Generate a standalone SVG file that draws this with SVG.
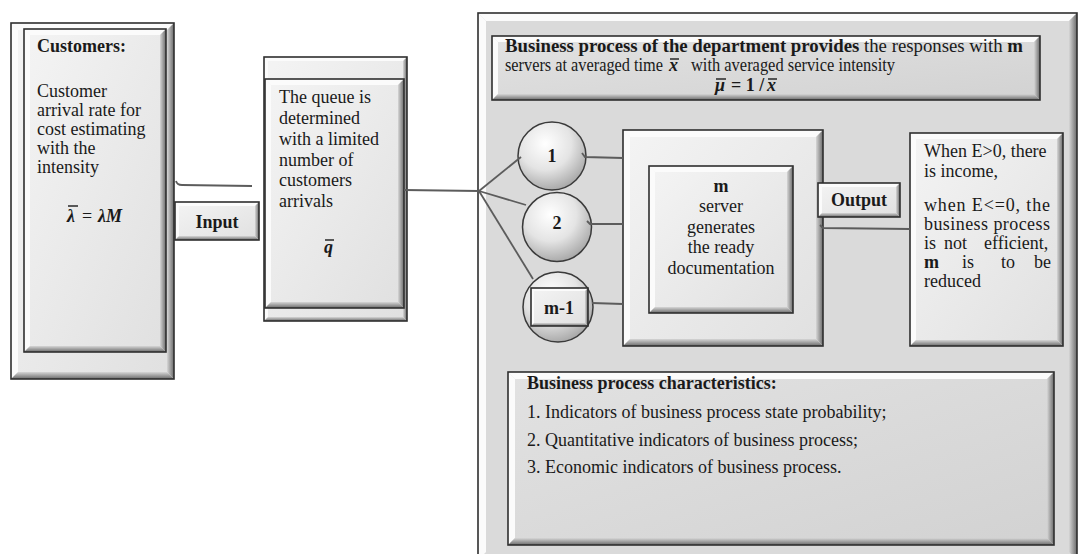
<svg xmlns="http://www.w3.org/2000/svg" width="1083" height="554" viewBox="0 0 1083 554">
  <defs>
    <linearGradient id="gFace" x1="0" y1="0" x2="1" y2="1">
      <stop offset="0" stop-color="#f4f4f4"/>
      <stop offset="1" stop-color="#e0e0e0"/>
    </linearGradient>
    <linearGradient id="gFaceDark" x1="0" y1="0" x2="1" y2="1">
      <stop offset="0" stop-color="#e2e2e2"/>
      <stop offset="1" stop-color="#d2d2d2"/>
    </linearGradient>
    <linearGradient id="gR" x1="0" y1="0" x2="1" y2="0">
      <stop offset="0" stop-color="#d6d6d6"/>
      <stop offset="1" stop-color="#6a6a6a"/>
    </linearGradient>
    <linearGradient id="gB" x1="0" y1="0" x2="0" y2="1">
      <stop offset="0" stop-color="#d6d6d6"/>
      <stop offset="1" stop-color="#6a6a6a"/>
    </linearGradient>
    <radialGradient id="gBall" cx="0.4" cy="0.32" r="0.7">
      <stop offset="0" stop-color="#ffffff"/>
      <stop offset="0.55" stop-color="#e4e4e4"/>
      <stop offset="1" stop-color="#a8a8a8"/>
    </radialGradient>
    <style>
      .face { fill: url(#gFace); }
      .faceD { fill: url(#gFaceDark); }
      .edge { fill: none; stroke: #2f2f2f; stroke-width: 1.6; }
      .bT, .bL { fill: #fbfbfb; }
      .bR { fill: url(#gR); }
      .bB { fill: url(#gB); }
      .ball { fill: url(#gBall); stroke: #3a3a3a; stroke-width: 1.5; }
      .wire { fill: none; stroke: #5c5c5c; stroke-width: 1.8; }
      .ovl { stroke: #1a1a1a; stroke-width: 1.4; }
      text { font-family: "Liberation Serif", "Times New Roman", serif; font-size: 18px; fill: #1a1a1a; }
      .b { font-weight: bold; }
      .mi { font-style: italic; font-weight: bold; }
      .c { text-anchor: middle; }
    </style>
  </defs>

  <!-- enclosing department frame -->
  <g id="department">
    <rect x="478" y="13" width="599" height="547" fill="#dadada"/>
    <polygon class="bT" points="478,13 1077,13 1069,21 486,21"/>
    <polygon class="bL" points="478,13 486,21 486,552 478,560"/>
    <polygon class="bR" points="1077,13 1077,560 1069,552 1069,21"/>
    <rect class="edge" x="478" y="13" width="599" height="547"/>
  </g>

  <!-- customers source -->
  <g id="customers">
    <rect class="face" x="11" y="23" width="163" height="356"/>
    <polygon class="bT" points="11,23 174,23 167,30 18,30"/>
    <polygon class="bL" points="11,23 18,30 18,372 11,379"/>
    <polygon class="bR" points="174,23 174,379 167,372 167,30"/>
    <polygon class="bB" points="11,379 174,379 167,372 18,372"/>
    <rect class="edge" x="11" y="23" width="163" height="356"/>
    <rect class="face" x="24" y="29" width="142" height="323"/>
    <polygon class="bT" points="24,29 166,29 160,35 30,35"/>
    <polygon class="bL" points="24,29 30,35 30,346 24,352"/>
    <polygon class="bR" points="166,29 166,352 160,346 160,35"/>
    <polygon class="bB" points="24,352 166,352 160,346 30,346"/>
    <rect class="edge" x="24" y="29" width="142" height="323"/>
    <text class="b" x="37" y="52">Customers:</text>
    <text x="37" y="97">Customer</text>
    <text x="37" y="116">arrival rate for</text>
    <text x="37" y="135">cost estimating</text>
    <text x="37" y="154">with the</text>
    <text x="37" y="173">intensity</text>
    <text class="mi" x="67" y="222">λ</text>
    <line class="ovl" x1="68" y1="206" x2="78" y2="206"/>
    <text x="82" y="222">=</text>
    <text class="mi" x="98" y="222">λM</text>
  </g>

  <!-- input label -->
  <g id="input">
    <rect class="face" x="175" y="202" width="84" height="38"/>
    <polygon class="bT" points="175,202 259,202 255,206 179,206"/>
    <polygon class="bL" points="175,202 179,206 179,236 175,240"/>
    <polygon class="bR" points="259,202 259,240 255,236 255,206"/>
    <polygon class="bB" points="175,240 259,240 255,236 179,236"/>
    <rect class="edge" x="175" y="202" width="84" height="38"/>
    <text class="b c" x="217" y="228">Input</text>
  </g>

  <!-- queue -->
  <g id="queue">
    <rect class="face" x="264" y="57" width="143" height="264"/>
    <polygon class="bT" points="264,57 407,57 403,61 268,61"/>
    <polygon class="bL" points="264,57 268,61 268,317 264,321"/>
    <polygon class="bR" points="407,57 407,321 403,317 403,61"/>
    <polygon class="bB" points="264,321 407,321 403,317 268,317"/>
    <rect class="edge" x="264" y="57" width="143" height="264"/>
    <rect class="face" x="265" y="79" width="139" height="229"/>
    <polygon class="bT" points="265,79 404,79 398,85 271,85"/>
    <polygon class="bL" points="265,79 271,85 271,302 265,308"/>
    <polygon class="bR" points="404,79 404,308 398,302 398,85"/>
    <polygon class="bB" points="265,308 404,308 398,302 271,302"/>
    <rect class="edge" x="265" y="79" width="139" height="229"/>
    <text x="279" y="103">The queue is</text>
    <text x="279" y="124">determined</text>
    <text x="279" y="145">with a limited</text>
    <text x="279" y="166">number of</text>
    <text x="279" y="186">customers</text>
    <text x="279" y="207">arrivals</text>
    <text class="mi" x="324" y="253">q</text>
    <line class="ovl" x1="325" y1="240" x2="334" y2="240"/>
  </g>

  <!-- department header -->
  <g id="header">
    <rect class="faceD" x="492" y="36" width="548" height="64"/>
    <polygon class="bT" points="492,36 1040,36 1034,42 498,42"/>
    <polygon class="bL" points="492,36 498,42 498,94 492,100"/>
    <polygon class="bR" points="1040,36 1040,100 1034,94 1034,42"/>
    <polygon class="bB" points="492,100 1040,100 1034,94 498,94"/>
    <rect class="edge" x="492" y="36" width="548" height="64"/>
    <text x="505" y="52" textLength="518" lengthAdjust="spacingAndGlyphs"><tspan class="b">Business process of the department provides</tspan> the responses with <tspan class="b">m</tspan></text>
    <text x="505" y="71" textLength="158" lengthAdjust="spacingAndGlyphs">servers at averaged time</text>
    <text class="mi" x="669" y="71">x</text>
    <line class="ovl" x1="670" y1="59" x2="679" y2="59"/>
    <text x="691" y="71" textLength="204" lengthAdjust="spacingAndGlyphs">with averaged service intensity</text>
    <text class="mi" x="715" y="91">μ</text>
    <line class="ovl" x1="716" y1="79" x2="726" y2="79"/>
    <text class="b" x="731" y="91">= 1 /</text>
    <text class="mi" x="767" y="91">x</text>
    <line class="ovl" x1="768" y1="79" x2="777" y2="79"/>
  </g>

  <!-- server channels -->
  <g id="channel-1">
    <circle class="ball" cx="552" cy="156" r="34"/>
    <text class="b c" x="552" y="162">1</text>
  </g>
  <g id="channel-2">
    <circle class="ball" cx="557" cy="227" r="34.5"/>
    <text class="b c" x="557" y="229">2</text>
  </g>
  <g id="channel-m-1">
    <circle class="ball" cx="558" cy="307" r="35"/>
    <rect class="face" x="531" y="288" width="57" height="38"/>
    <polygon class="bT" points="531,288 588,288 585,291 534,291"/>
    <polygon class="bL" points="531,288 534,291 534,323 531,326"/>
    <polygon class="bR" points="588,288 588,326 585,323 585,291"/>
    <polygon class="bB" points="531,326 588,326 585,323 534,323"/>
    <rect class="edge" x="531" y="288" width="57" height="38"/>
    <text class="b c" x="559" y="314">m-1</text>
  </g>

  <!-- server block -->
  <g id="server">
    <rect class="face" x="623" y="130" width="200" height="216"/>
    <polygon class="bT" points="623,130 823,130 816,137 630,137"/>
    <polygon class="bL" points="623,130 630,137 630,339 623,346"/>
    <polygon class="bR" points="823,130 823,346 816,339 816,137"/>
    <polygon class="bB" points="623,346 823,346 816,339 630,339"/>
    <rect class="edge" x="623" y="130" width="200" height="216"/>
    <rect class="face" x="649" y="166" width="144" height="147"/>
    <polygon class="bT" points="649,166 793,166 787,172 655,172"/>
    <polygon class="bL" points="649,166 655,172 655,307 649,313"/>
    <polygon class="bR" points="793,166 793,313 787,307 787,172"/>
    <polygon class="bB" points="649,313 793,313 787,307 655,307"/>
    <rect class="edge" x="649" y="166" width="144" height="147"/>
    <text class="b c" x="721" y="192">m</text>
    <text class="c" x="721" y="212">server</text>
    <text class="c" x="721" y="233">generates</text>
    <text class="c" x="721" y="253">the ready</text>
    <text class="c" x="721" y="274">documentation</text>
  </g>

  <!-- output label -->
  <g id="output">
    <rect class="face" x="818" y="183" width="82" height="34"/>
    <polygon class="bT" points="818,183 900,183 896,187 822,187"/>
    <polygon class="bL" points="818,183 822,187 822,213 818,217"/>
    <polygon class="bR" points="900,183 900,217 896,213 896,187"/>
    <polygon class="bB" points="818,217 900,217 896,213 822,213"/>
    <rect class="edge" x="818" y="183" width="82" height="34"/>
    <text class="b c" x="859" y="206">Output</text>
  </g>

  <!-- efficiency result -->
  <g id="result">
    <rect class="face" x="910" y="133" width="153" height="213"/>
    <polygon class="bT" points="910,133 1063,133 1057,139 916,139"/>
    <polygon class="bL" points="910,133 916,139 916,340 910,346"/>
    <polygon class="bR" points="1063,133 1063,346 1057,340 1057,139"/>
    <polygon class="bB" points="910,346 1063,346 1057,340 916,340"/>
    <rect class="edge" x="910" y="133" width="153" height="213"/>
    <text x="924" y="157">When E&gt;0, there</text>
    <text x="924" y="177">is income,</text>
    <text x="924" y="211" textLength="126" lengthAdjust="spacing">when E&lt;=0, the</text>
    <text x="924" y="230" textLength="126" lengthAdjust="spacing">business process</text>
    <text x="924" y="249"><tspan>is</tspan><tspan x="944">not</tspan><tspan x="984">efficient,</tspan></text>
    <text x="924" y="268"><tspan class="b">m</tspan><tspan x="962">is</tspan><tspan x="1001">to</tspan><tspan x="1034">be</tspan></text>
    <text x="924" y="287">reduced</text>
  </g>

  <!-- characteristics -->
  <g id="characteristics">
    <rect class="faceD" x="508" y="372" width="546" height="173"/>
    <polygon class="bT" points="508,372 1054,372 1047,379 515,379"/>
    <polygon class="bL" points="508,372 515,379 515,538 508,545"/>
    <polygon class="bR" points="1054,372 1054,545 1047,538 1047,379"/>
    <polygon class="bB" points="508,545 1054,545 1047,538 515,538"/>
    <rect class="edge" x="508" y="372" width="546" height="173"/>
    <text class="b" x="527" y="389">Business process characteristics:</text>
    <text x="527" y="418">1. Indicators of business process state probability;</text>
    <text x="527" y="446">2. Quantitative indicators of business process;</text>
    <text x="527" y="473">3. Economic indicators of business process.</text>
  </g>

  <!-- connectors -->
  <g id="connectors">
    <path class="wire" d="M176,181 Q177,185 182,185 L252,186"/>
    <path class="wire" d="M404,190 L479,191"/>
    <path class="wire" d="M479,191 L521,157"/>
    <path class="wire" d="M479,191 L526,205"/>
    <path class="wire" d="M479,191 L533,279"/>
    <path class="wire" d="M582,153 L585,157 L623,158"/>
    <path class="wire" d="M587,221 L590,224 L623,224"/>
    <path class="wire" d="M592,303 L623,304"/>
    <path class="wire" d="M820,225 L823,228 L910,229"/>
  </g>
</svg>
